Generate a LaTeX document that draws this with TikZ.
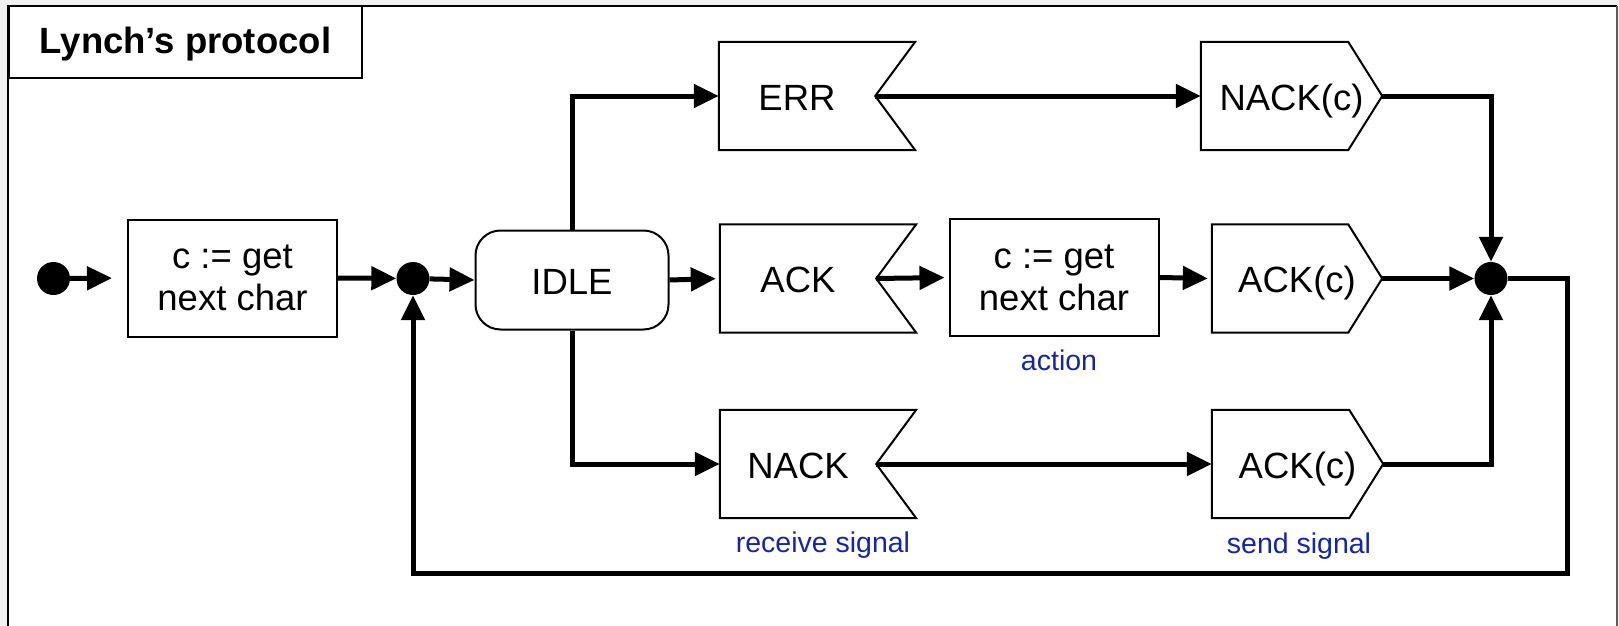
\documentclass[tikz,border=0pt]{standalone}
\usepackage{fontspec}
\setmainfont{Liberation Sans}
\usetikzlibrary{arrows.meta}
\definecolor{sigblue}{RGB}{22,38,160}
\begin{document}
\begin{tikzpicture}[x=1pt, y=-1pt,
  txt/.style={font=\fontsize{36.5}{42}\selectfont},
  box/.style={txt, draw, line width=2pt, rectangle, inner sep=0pt, align=center},
  proc/.style={box, minimum width=209pt, minimum height=117pt},
  state/.style={box, rounded corners=25pt, minimum width=193pt, minimum height=99pt,
    text height=28pt, text depth=0pt},
  recv/.style={txt, rectangle, inner sep=0pt, minimum width=156pt, minimum height=108pt,
    text height=28pt, text depth=0pt},
  send/.style={txt, rectangle, inner sep=0pt, minimum height=108pt,
    text height=28pt, text depth=0pt},
  dot/.style={circle, fill=black, inner sep=0pt, minimum size=33pt},
  wire/.style={line width=5pt},
  flow/.style={wire, -{Triangle[length=25pt, width=23pt]}},
  outline/.style={line width=2pt, line join=miter},
  note/.style={text=sigblue, font=\fontsize{28.5}{34}\selectfont, anchor=base, inner sep=0pt}
]
\useasboundingbox (0,0) rectangle (1619,626);

% sheet and frame
\fill[gray!10] (0,0) rectangle (1619,626);
\fill[white] (8,6) rectangle (1617,626);
\draw[line width=2pt] (8,626) -- (8,6) -- (1617,6);
\draw[gray!70!black, line width=1.5pt] (1617,6) -- (1617,626);

% title
\node[box, font=\bfseries\fontsize{36.5}{42}\selectfont, minimum width=353pt, minimum height=72pt,
  text height=26pt, text depth=2pt] (title) at (185.5,42) {Lynch’s protocol};

% middle row
\node[dot] (start) at (53.5,278.5) {};
\node[proc] (get1) at (232.5,278) {c := get\\next char};
\node[dot] (j1) at (413,278.5) {};
\node[state] (idle) at (572,280) {IDLE};
\node[recv] (ack) at (798,278.5) {ACK};
\node[proc] (get2) at (1054,277.5) {c := get\\next char};
\node[send, minimum width=170pt] (ackc) at (1297,278.5) {ACK(c)};
\node[dot] (j2) at (1491,278.5) {};

% top row
\node[recv] (err) at (797,96) {ERR};
\node[send, minimum width=181pt] (nackc) at (1291.5,96) {NACK(c)};

% bottom row
\node[recv] (nack) at (798,464) {NACK};
\node[send, minimum width=171pt] (ackcb) at (1297.5,464) {ACK(c)};

% receive-signal outlines (notch on the right)
\foreach \n in {err,ack,nack}
  \draw[outline] (\n.north west) -- ([xshift=40pt]\n.north east) -- (\n.east)
    -- ([xshift=40pt]\n.south east) -- (\n.south west) -- cycle;
% send-signal outlines (point on the right)
\foreach \n in {nackc,ackc,ackcb}
  \draw[outline] (\n.north west) -- ([xshift=-34pt]\n.north east) -- (\n.east)
    -- ([xshift=-34pt]\n.south east) -- (\n.south west) -- cycle;

% captions
\node[note] (cap-action) at (1059,370) {action};
\node[note] (cap-recv) at (823,552) {receive signal};
\node[note] (cap-send) at (1299,553) {send signal};

% connectors
\draw[flow, shorten >=15pt] (start) -- (get1.west);
\draw[flow] (get1.east) -- (j1);
\draw[flow] (j1) -- (idle.west);
\draw[flow, shorten >=4pt] (idle.east) -- (ack.west);
\draw[flow, shorten >=4pt] (ack.east) -- (get2.west);
\draw[flow, shorten >=4pt] (get2.east) -- (ackc.west);
\draw[flow] (ackc.east) -- (j2);

\draw[flow] (idle.north) |- (err.west);
\draw[flow] (err.east) -- (nackc.west);
\draw[flow] (nackc.east) -| (j2);

\draw[flow] (idle.south) |- (nack.west);
\draw[flow] (nack.east) -- (ackcb.west);
\draw[flow] (ackcb.east) -| (j2);

\coordinate (ret) at (1567,573);
\draw[flow] (j2.east) -| (ret) -| (j1);
\end{tikzpicture}
\end{document}
